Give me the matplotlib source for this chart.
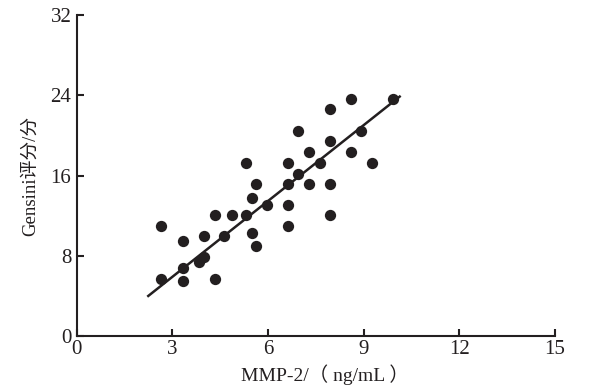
import matplotlib
matplotlib.use("Agg")
import matplotlib.pyplot as plt
import numpy as np

# data
mmp2 = [2.65, 2.65, 3.33, 3.33, 3.33, 3.83, 3.98, 3.98, 4.32, 4.32,
        4.63, 4.86, 5.30, 5.50, 5.50, 5.63, 5.63, 5.97, 6.63, 6.63,
        6.63, 7.28, 6.94, 5.30, 6.63, 7.28, 6.94, 7.95, 8.59, 9.92,
        8.92, 7.95, 8.59, 7.62, 9.26, 7.95, 7.95]
gensini = [11.0, 5.7, 9.47, 6.8, 5.48, 7.4, 7.84, 9.97, 12.1, 5.7,
           9.97, 12.1, 12.1, 13.8, 10.3, 8.97, 15.2, 13.1, 13.1, 11.0,
           15.2, 15.2, 20.47, 17.3, 17.3, 18.35, 16.2, 22.6, 23.6, 23.6,
           20.47, 19.4, 18.35, 17.3, 17.3, 15.2, 12.1]
fit_x = [2.24, 10.13]
fit_slope = 2.52
fit_intercept = -1.65
xticks = [0, 3, 6, 9, 12, 15]
yticks = [0, 8, 16, 24, 32]

col = "#231f20"
fam = ["Liberation Serif", "Noto Sans CJK SC"]
plt.rcParams["font.family"] = fam

fig = plt.figure(figsize=(5.96, 3.88), dpi=100)
ax = fig.add_axes([0.129, 0.134, 0.802, 0.827])

ax.scatter(mmp2, gensini, s=66, color=col, zorder=3, linewidths=0)
fx = np.array(fit_x)
ax.plot(fx, fit_slope * fx + fit_intercept, color=col, lw=1.8, zorder=2)

ax.set_xlim(0, 15)
ax.set_ylim(0, 32)
ax.set_xticks(xticks)
ax.set_yticks(yticks)
for s in ["top", "right"]:
    ax.spines[s].set_visible(False)
for s in ["left", "bottom"]:
    ax.spines[s].set_linewidth(1.5)
    ax.spines[s].set_color(col)
ax.tick_params(direction="in", length=5, width=1.5, color=col,
               labelsize=15, labelcolor=col)
ax.tick_params(axis="x", pad=3)
ax.tick_params(axis="y", pad=4)

ax.set_xlabel("MMP-2/（ ng/mL ）", fontsize=14, color=col)
ax.xaxis.set_label_coords(0.519, -0.088)
ax.set_ylabel("Gensini评分/分", fontsize=13.5, color=col, labelpad=8)

fig.savefig("out.png", dpi=100)
